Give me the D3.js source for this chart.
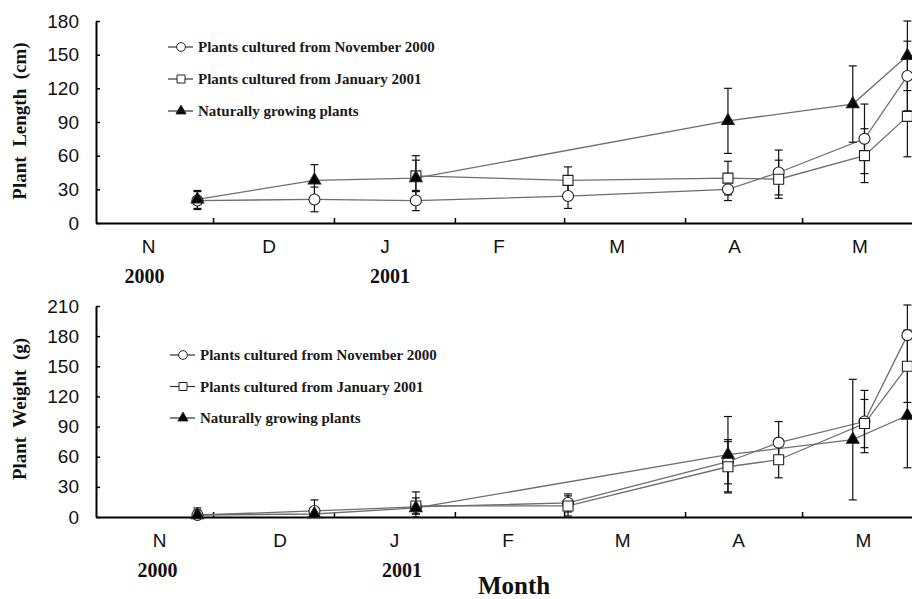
<!DOCTYPE html>
<html>
<head>
<meta charset="utf-8">
<script src="https://cdn.jsdelivr.net/npm/d3@7"></script>
<style>
  body { margin: 0; background: #fff; }
  svg { display: block; }
  text { white-space: pre; }
</style>
</head>
<body>
<svg id="chart" width="912" height="599"></svg>
<script>
// Sampling dates for each group
const novDates = ["2000-11-27", "2000-12-27", "2001-01-22", "2001-03-02", "2001-04-12", "2001-04-25", "2001-05-17", "2001-05-28"];
const janDates = ["2001-01-22", "2001-03-02", "2001-04-12", "2001-04-25", "2001-05-17", "2001-05-28"];
const natDates = ["2000-11-27", "2000-12-27", "2001-01-22", "2001-04-12", "2001-05-14", "2001-05-28"];

// Plant length (cm), mean and error
const novLength    = [20, 21, 20, 24, 30, 45, 75, 131];
const novLengthErr = [8, 11, 9, 11, 10, 20, 31, 31];
const janLength    = [42, 38, 40, 39, 60, 95];
const janLengthErr = [14, 12, 15, 17, 24, 36];
const natLength    = [21, 38, 40, 91, 106, 149];
const natLengthErr = [8, 14, 20, 29, 34, 31];

// Plant weight (g), mean and error
const novWeight    = [2, 6, 10, 14, 55, 74, 95, 181];
const novWeightErr = [5, 11, 15, 9, 22, 21, 31, 30];
const janWeight    = [11, 11, 50, 57, 93, 150];
const janWeightErr = [8, 10, 25, 18, 24, 36];
const natWeight    = [2, 3, 9, 62, 77, 101];
const natWeightErr = [7, 4, 6, 38, 60, 52];

// Labels
const seriesNames = ["Plants cultured from November 2000", "Plants cultured from January 2001", "Naturally growing plants"];
const monthLabels = ["N", "D", "J", "F", "M", "A", "M"];
const yearLabels  = ["2000", "2001"];
const lengthTicks = [0, 30, 60, 90, 120, 150, 180];
const weightTicks = [0, 30, 60, 90, 120, 150, 180, 210];

const parse = d3.timeParse("%Y-%m-%d");
const svg = d3.select("#chart");

// Nov 2000 through the end of May 2001
const x = d3.scaleTime()
  .domain([new Date(2000, 10, 1), new Date(2001, 5, 1)])
  .range([96, 923]);
const monthStarts = d3.timeMonth.range(new Date(2000, 10, 1), new Date(2001, 5, 1));
const monthCenter = i => (x(monthStarts[i]) + x(d3.timeMonth.offset(monthStarts[i], 1))) / 2;

const symbols = [d3.symbolCircle, d3.symbolSquare, d3.symbolTriangle];
const fills = ["#fff", "#fff", "#000"];
const lineColor = "#6e6e6e";

function drawPanel(cfg) {
  const g = svg.append("g");
  const y = d3.scaleLinear().domain([0, cfg.max]).range([cfg.y0, cfg.y1]);

  // y axis
  const yAxis = g.append("g")
    .attr("transform", "translate(96,0)")
    .call(d3.axisLeft(y).tickValues(cfg.ticks).tickSizeInner(-4).tickSizeOuter(0).tickPadding(17));
  yAxis.select(".domain").attr("stroke", "#000").attr("stroke-width", 2);
  yAxis.selectAll(".tick line").attr("stroke", "#000").attr("stroke-width", 1.5);
  yAxis.selectAll(".tick text")
    .attr("font-family", "Liberation Sans, Arial, sans-serif")
    .attr("font-size", 19).attr("fill", "#111");

  // x axis with month boundaries
  const xAxis = g.append("g")
    .attr("transform", `translate(0,${cfg.y0})`)
    .call(d3.axisBottom(x).tickValues(monthStarts.slice(1)).tickSizeInner(-5).tickSizeOuter(0).tickFormat(""));
  xAxis.select(".domain").attr("stroke", "#000").attr("stroke-width", 2.2);
  xAxis.selectAll(".tick line").attr("stroke", "#000").attr("stroke-width", 1.5);

  // month letters
  g.selectAll(".month").data(monthLabels).join("text")
    .attr("x", (d, i) => monthCenter(i) + cfg.monthDx[i])
    .attr("y", cfg.y0 + 30)
    .attr("text-anchor", "middle")
    .attr("font-family", "Liberation Sans, Arial, sans-serif")
    .attr("font-size", 19).attr("fill", "#111")
    .text(d => d);

  // years under N and J
  g.selectAll(".year").data(yearLabels).join("text")
    .attr("x", (d, i) => monthCenter(i * 2) + cfg.yearDx[i])
    .attr("y", cfg.y0 + 60)
    .attr("text-anchor", "middle")
    .attr("font-family", "Liberation Serif, Times New Roman, serif")
    .attr("font-weight", "bold")
    .attr("font-size", 20).attr("fill", "#111")
    .text(d => d);

  // axis title
  g.append("text")
    .attr("transform", `translate(26,${cfg.titleY}) rotate(-90)`)
    .attr("text-anchor", "middle")
    .attr("font-family", "Liberation Serif, Times New Roman, serif")
    .attr("font-weight", "bold")
    .attr("font-size", 19).attr("fill", "#111")
    .text(cfg.title);

  const series = cfg.series.map((s, i) => ({
    i,
    pts: s.dates.map((d, j) => ({ date: parse(d), v: s.values[j], e: s.errs[j] }))
  }));

  const line = d3.line().x(d => x(d.date)).y(d => y(d.v));

  // connecting lines
  g.selectAll(".series-line").data(series).join("path")
    .attr("fill", "none")
    .attr("stroke", lineColor)
    .attr("stroke-width", 1.3)
    .attr("d", s => line(s.pts));

  // error bars
  series.forEach(s => {
    const eb = g.append("g").attr("stroke", "#111").attr("stroke-width", 1.2);
    s.pts.forEach(p => {
      const cx = x(p.date), top = y(p.v + p.e), bot = y(Math.max(0, p.v - p.e));
      eb.append("line").attr("x1", cx).attr("x2", cx).attr("y1", top).attr("y2", bot);
      eb.append("line").attr("x1", cx - 4).attr("x2", cx + 4).attr("y1", top).attr("y2", top);
      eb.append("line").attr("x1", cx - 4).attr("x2", cx + 4).attr("y1", bot).attr("y2", bot);
    });
  });

  // markers
  const sizes = [95, 100, 68];
  series.forEach(s => {
    g.selectAll(null).data(s.pts).join("path")
      .attr("transform", p => `translate(${x(p.date)},${y(p.v)})`)
      .attr("d", d3.symbol().type(symbols[s.i]).size(sizes[s.i]))
      .attr("fill", fills[s.i])
      .attr("stroke", "#222")
      .attr("stroke-width", 1.1);
  });

  // legend
  const lg = g.append("g");
  seriesNames.forEach((name, i) => {
    const ly = cfg.legendY + i * cfg.legendStep;
    lg.append("line")
      .attr("x1", cfg.legendX).attr("x2", cfg.legendX + 25)
      .attr("y1", ly).attr("y2", ly)
      .attr("stroke", "#333").attr("stroke-width", 1.2);
    lg.append("path")
      .attr("transform", `translate(${cfg.legendX + 13},${ly})`)
      .attr("d", d3.symbol().type(symbols[i]).size([60, 64, 44][i]))
      .attr("fill", fills[i]).attr("stroke", "#222").attr("stroke-width", 1);
    lg.append("text")
      .attr("x", cfg.legendX + 30).attr("y", ly + 5)
      .attr("font-family", "Liberation Serif, Times New Roman, serif")
      .attr("font-weight", "bold")
      .attr("font-size", 15).attr("fill", "#1a1a1a")
      .text(name);
  });
}

drawPanel({
  max: 180, y0: 223, y1: 21, ticks: lengthTicks,
  title: "Plant  Length  (cm)", titleY: 121,
  monthDx: [-6, -4.5, -9.5, -10.5, -7.5, -9, -2.5], yearDx: [-10, -4.5],
  legendX: 168, legendY: 47, legendStep: 32,
  series: [
    { dates: novDates, values: novLength, errs: novLengthErr },
    { dates: janDates, values: janLength, errs: janLengthErr },
    { dates: natDates, values: natLength, errs: natLengthErr }
  ]
});

drawPanel({
  max: 210, y0: 517, y1: 306, ticks: weightTicks,
  title: "Plant  Weight  (g)", titleY: 409,
  monthDx: [5, 6.5, 0, -1.5, -2, -5, 1], yearDx: [3, 7.5],
  legendX: 170, legendY: 355, legendStep: 31.5,
  series: [
    { dates: novDates, values: novWeight, errs: novWeightErr },
    { dates: janDates, values: janWeight, errs: janWeightErr },
    { dates: natDates, values: natWeight, errs: natWeightErr }
  ]
});

// shared x axis title
svg.append("text")
  .attr("x", 514).attr("y", 594)
  .attr("text-anchor", "middle")
  .attr("font-family", "Liberation Serif, Times New Roman, serif")
  .attr("font-weight", "bold")
  .attr("font-size", 25).attr("fill", "#111")
  .text("Month");
</script>
</body>
</html>
